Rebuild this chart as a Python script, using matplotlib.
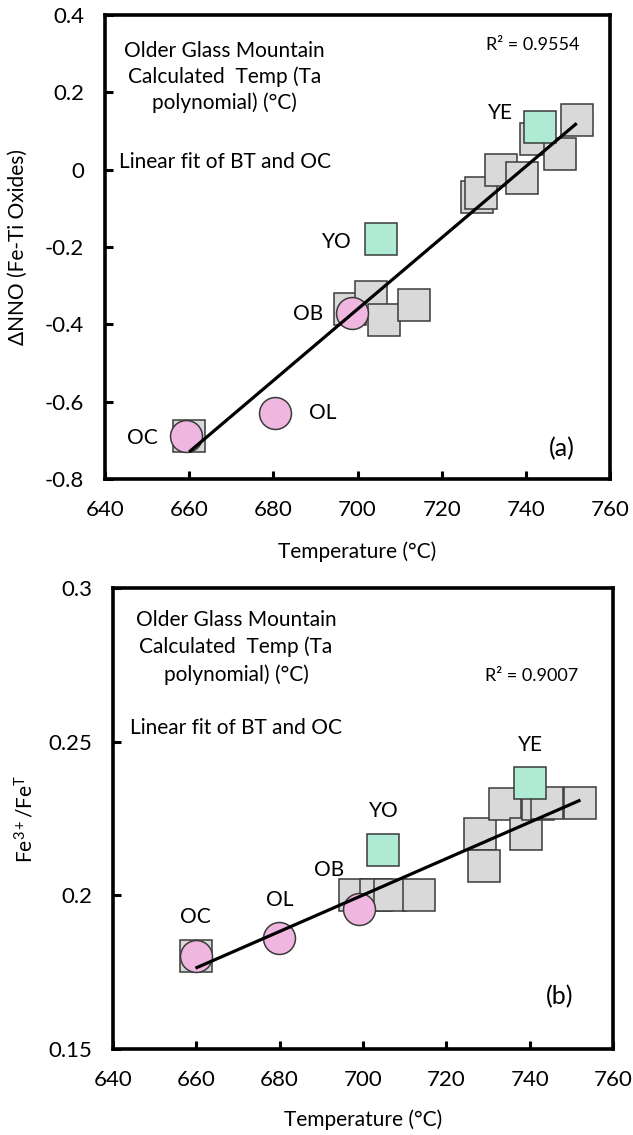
import matplotlib
matplotlib.use("Agg")
import matplotlib.pyplot as plt

plt.rcParams['font.family'] = ['Lato', 'DejaVu Sans']
plt.rcParams['mathtext.fontset'] = 'custom'
plt.rcParams['mathtext.rm'] = 'Lato'
plt.rcParams['mathtext.it'] = 'Lato:italic'

# ---- panel (a): delta NNO from Fe-Ti oxides ----
bt_temp_a = [660, 698.1, 703.1, 706.4, 713.4, 728.3, 729.3, 734.1, 739.2, 742.4, 748.2, 752.1]
bt_nno_a = [-0.69, -0.36, -0.33, -0.39, -0.35, -0.07, -0.061, 0.0, -0.022, 0.079, 0.040, 0.129]
y_temp_a = [705.6, 743.3]
y_nno_a = [-0.18, 0.11]
y_names = ['YO', 'YE']
o_temp_a = [659.3, 680.5, 698.8]
o_nno_a = [-0.689, -0.629, -0.371]
o_names = ['OC', 'OL', 'OB']
fit_temp_a = [660, 752.1]
fit_nno_a = [-0.73, 0.12]
r2_a = 'R² = 0.9554'

# ---- panel (b): Fe3+/FeT ----
bt_temp_b = [660, 698.1, 703.1, 706.4, 713.4, 728.1, 729.1, 734.1, 739.1, 742.1, 744.1, 752.1]
bt_fe_b = [0.1804, 0.2, 0.2, 0.2, 0.2, 0.22, 0.2097, 0.2297, 0.22, 0.2297, 0.23, 0.23]
y_temp_b = [704.9, 740.1]
y_fe_b = [0.2148, 0.2367]
o_temp_b = [659.8, 679.9, 699.0]
o_fe_b = [0.1804, 0.186, 0.1956]
fit_temp_b = [659.8, 752.2]
fit_fe_b = [0.1763, 0.231]
r2_b = 'R² = 0.9007'

x_ticks = [640, 660, 680, 700, 720, 740, 760]
y_ticks_a = [-0.8, -0.6, -0.4, -0.2, 0, 0.2, 0.4]
y_ticklabels_a = ['-0.8', '-0.6', '-0.4', '-0.2', '0', '0.2', '0.4']
y_ticks_b = [0.15, 0.2, 0.25, 0.3]
y_ticklabels_b = ['0.15', '0.2', '0.25', '0.3']

note_lines = 'Older Glass Mountain\nCalculated  Temp (Ta\npolynomial) (°C)'
fit_note = 'Linear fit of BT and OC'

GRAY = '#d9d9d9'
GREEN = '#aeead4'
PINK = '#efb7df'
EDGE = '#3a3a3a'

fig = plt.figure(figsize=(6.33, 11.35), dpi=100)
ax_a = fig.add_axes([105 / 633, 1 - 479 / 1135, 505 / 633, 464 / 1135])
ax_b = fig.add_axes([113 / 633, 1 - 1049 / 1135, 500 / 633, 461 / 1135])

MS = 23
FS = 15
TFS = 16


def style_axes(ax, yticks, yticklabels, ylim, ylabel, ylab_x, xlab_y):
    ax.set_xlim(640, 760)
    ax.set_ylim(*ylim)
    ax.set_xticks(x_ticks)
    ax.set_xticklabels([str(t) for t in x_ticks])
    ax.set_yticks(yticks)
    ax.set_yticklabels(yticklabels)
    for s in ax.spines.values():
        s.set_linewidth(2.6)
    ax.tick_params(direction='in', length=6, width=2.2, labelsize=TFS, pad=15)
    ax.set_xlabel('Temperature (°C)', fontsize=FS)
    ax.set_ylabel(ylabel, fontsize=FS)
    ax.yaxis.set_label_coords(ylab_x, 0.5)
    ax.xaxis.set_label_coords(0.5, xlab_y)


def draw_points(ax, bt_x, bt_y, yx, yy, ox, oy, fx, fy):
    for x, y in zip(bt_x, bt_y):
        ax.plot([x], [y], marker='s', ms=MS, mfc=GRAY, mec=EDGE, mew=1.1, ls='none', zorder=2)
    ax.plot(yx, yy, marker='s', ms=MS, mfc=GREEN, mec=EDGE, mew=1.1, ls='none', zorder=3)
    ax.plot(ox, oy, marker='o', ms=MS, mfc=PINK, mec=EDGE, mew=1.1, ls='none', zorder=4)
    ax.plot(fx, fy, color='black', lw=2.3, solid_capstyle='butt', zorder=5)


# panel (a)
draw_points(ax_a, bt_temp_a, bt_nno_a, y_temp_a, y_nno_a, o_temp_a, o_nno_a, fit_temp_a, fit_nno_a)
style_axes(ax_a, y_ticks_a, y_ticklabels_a, (-0.8, 0.4), 'ΔNNO (Fe-Ti Oxides)', -0.152, -0.135)
lab_a = {'YE': (733.9, 0.147), 'YO': (695.1, -0.187), 'OB': (688.2, -0.373),
         'OL': (691.7, -0.629), 'OC': (649.0, -0.694)}
for name, (x, y) in lab_a.items():
    ax_a.text(x, y, name, fontsize=FS, ha='center', va='center')
ax_a.text(0.236, 0.943, note_lines, transform=ax_a.transAxes, fontsize=FS,
          ha='center', va='top', linespacing=1.3)
ax_a.text(0.238, 0.683, fit_note, transform=ax_a.transAxes, fontsize=FS, ha='center', va='center')
ax_a.text(0.848, 0.935, r2_a, transform=ax_a.transAxes, fontsize=13, ha='center', va='center')
ax_a.text(0.905, 0.065, '(a)', transform=ax_a.transAxes, fontsize=18, ha='center', va='center')

# panel (b)
draw_points(ax_b, bt_temp_b, bt_fe_b, y_temp_b, y_fe_b, o_temp_b, o_fe_b, fit_temp_b, fit_fe_b)
style_axes(ax_b, y_ticks_b, y_ticklabels_b, (0.15, 0.3), r'Fe$^{3+}$/Fe$^{\mathrm{T}}$', -0.152, -0.132)
lab_b = {'YE': (740.1, 0.2489), 'YO': (704.9, 0.2273), 'OB': (691.9, 0.2081),
         'OL': (679.9, 0.1986), 'OC': (659.8, 0.1931)}
for name, (x, y) in lab_b.items():
    ax_b.text(x, y, name, fontsize=FS, ha='center', va='center')
ax_b.text(0.246, 0.952, note_lines, transform=ax_b.transAxes, fontsize=FS,
          ha='center', va='top', linespacing=1.4)
ax_b.text(0.246, 0.696, fit_note, transform=ax_b.transAxes, fontsize=FS, ha='center', va='center')
ax_b.text(0.838, 0.809, r2_b, transform=ax_b.transAxes, fontsize=13, ha='center', va='center')
ax_b.text(0.894, 0.113, '(b)', transform=ax_b.transAxes, fontsize=18, ha='center', va='center')

fig.savefig('out.png', dpi=100)
